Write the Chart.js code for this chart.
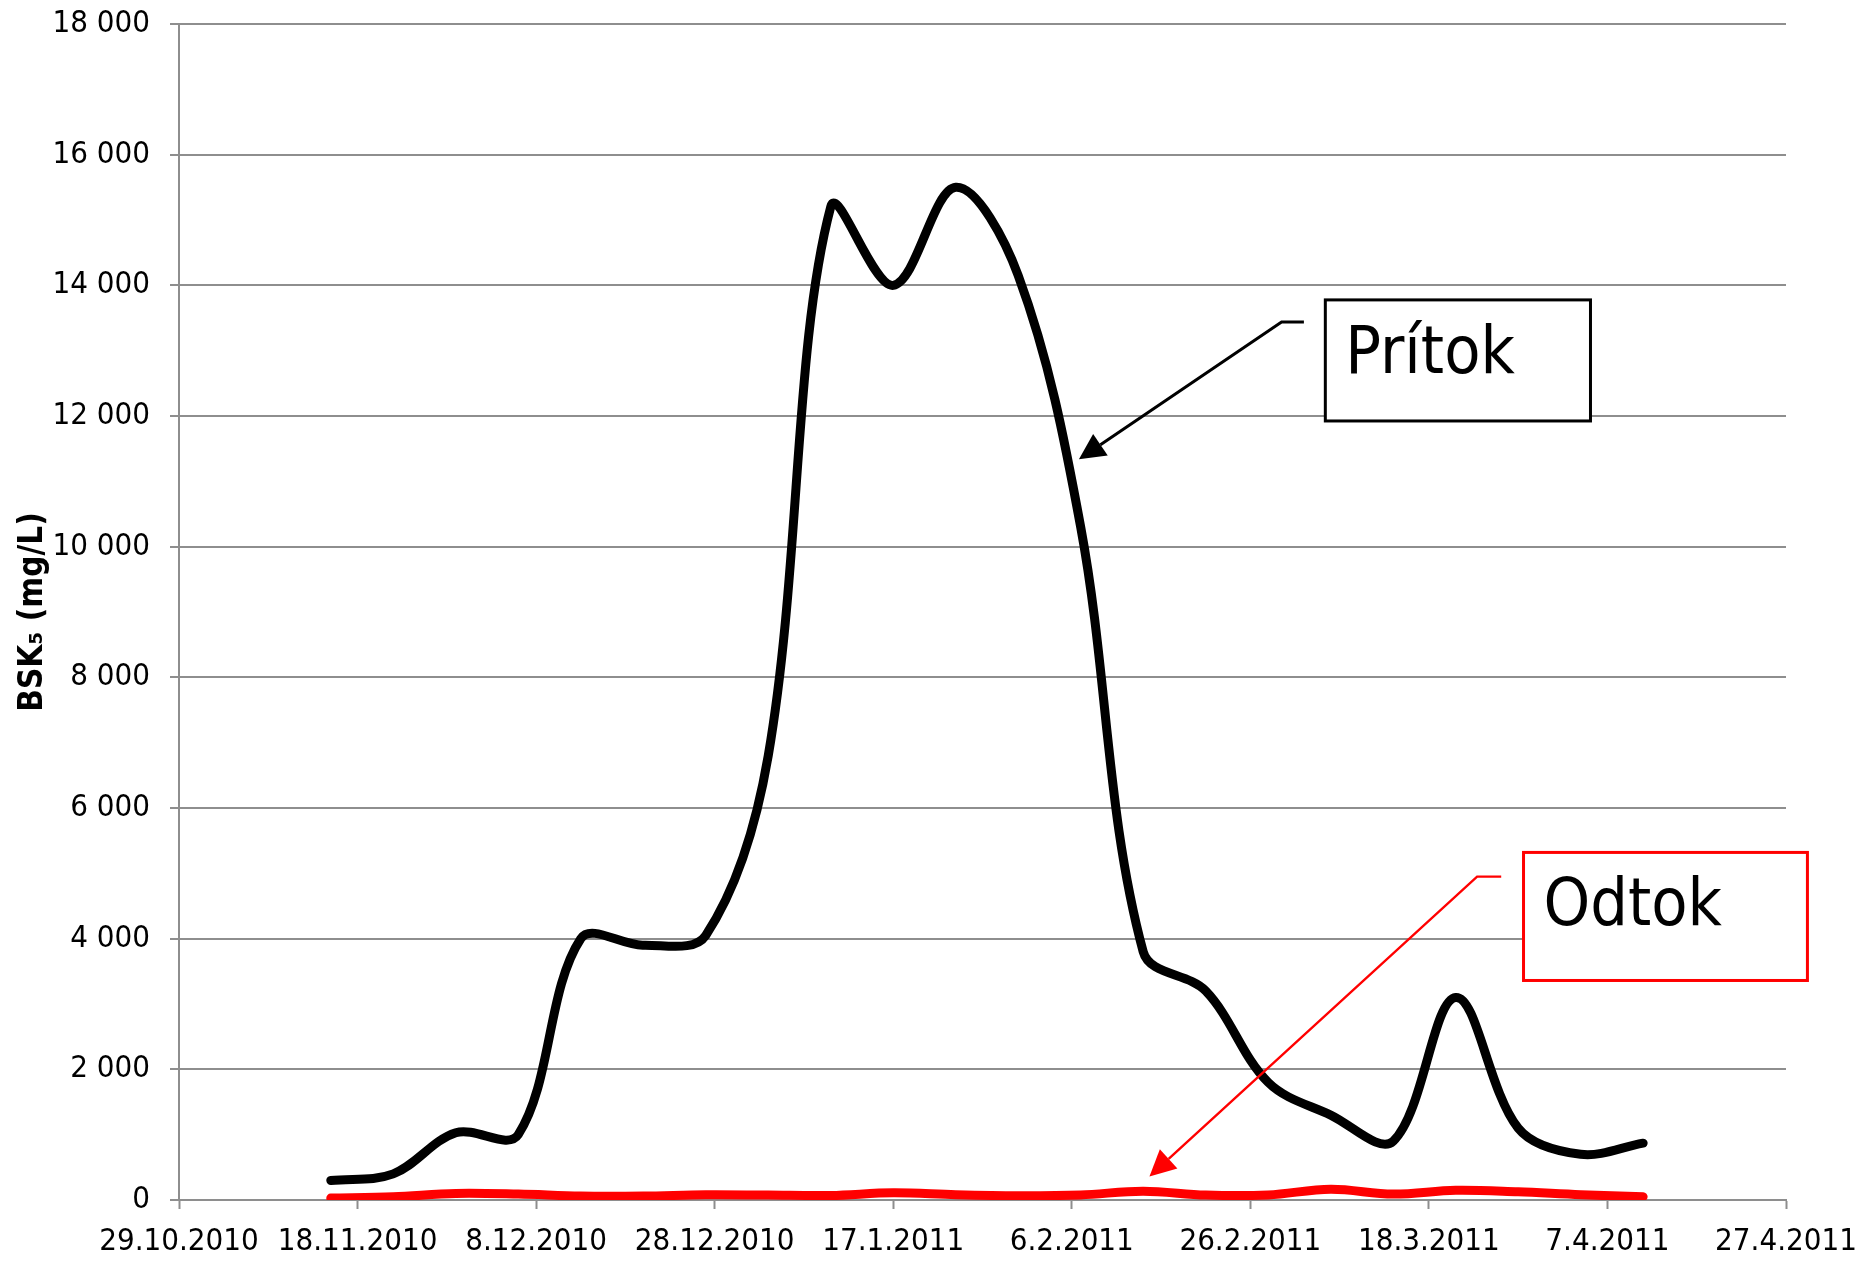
<!DOCTYPE html>
<html>
<head>
<meta charset="utf-8">
<script src="https://cdn.jsdelivr.net/npm/chart.js@4.4.1/dist/chart.umd.min.js"></script>
<style>
  html, body { margin: 0; padding: 0; background: #fff; }
  #wrap { width: 1871px; height: 1268px; }
</style>
</head>
<body>
<div id="wrap"><canvas id="bskChart" width="1871" height="1268"></canvas></div>
<script>
// weekly samples, BSK5 in mg/L
const sampleDates = ['15.11.2010','22.11.2010','29.11.2010','6.12.2010','13.12.2010','20.12.2010','27.12.2010',
  '3.1.2011','10.1.2011','17.1.2011','24.1.2011','31.1.2011','7.2.2011','14.2.2011','21.2.2011','28.2.2011',
  '7.3.2011','14.3.2011','21.3.2011','28.3.2011','4.4.2011','11.4.2011'];
const pritok = [300, 400, 1030, 1000, 4000, 3900, 4050, 6800, 15200, 14000, 15500, 14150, 10300, 3800, 3200, 1800,
  1300, 900, 3100, 1100, 700, 870];
const odtok = [30, 50, 100, 90, 60, 60, 80, 75, 70, 110, 80, 65, 77, 135, 75, 77, 165, 90, 150, 125, 80, 50];
const xTickLabels = ['29.10.2010','18.11.2010','8.12.2010','28.12.2010','17.1.2011','6.2.2011','26.2.2011',
  '18.3.2011','7.4.2011','27.4.2011'];

const FONT = '"DejaVu Sans Condensed", "DejaVu Sans", sans-serif';
const GRID = '#8e8e8e';

function parseDay(s) {
  const [d, m, y] = s.split('.').map(Number);
  return Date.UTC(y, m - 1, d) / 86400000;
}
const day0 = parseDay(xTickLabels[0]);
const xs = sampleDates.map(s => parseDay(s) - day0);

// callouts, anchored in data units (days, mg/L)
const callouts = [
  { text: 'Prítok', color: '#000000', lw: 3, box: [128.4, 13777, 158.1, 11924], leader: [126.0, 123.5, 13440], tip: [100.8, 11337] },
  { text: 'Odtok', color: '#ff0000', lw: 2.4, box: [150.6, 5320, 182.4, 3360], leader: [148.1, 145.4, 4950], tip: [108.7, 360] }
];

const calloutPlugin = {
  id: 'callouts',
  afterDraw(chart) {
    const { ctx, scales: { x, y } } = chart;
    ctx.save();
    callouts.forEach(c => {
      const bx0 = x.getPixelForValue(c.box[0]), by0 = y.getPixelForValue(c.box[1]);
      const bx1 = x.getPixelForValue(c.box[2]), by1 = y.getPixelForValue(c.box[3]);
      ctx.fillStyle = '#fff';
      ctx.fillRect(bx0, by0, bx1 - bx0, by1 - by0);
      ctx.strokeStyle = c.color;
      ctx.lineWidth = 3;
      ctx.strokeRect(bx0, by0, bx1 - bx0, by1 - by0);
      ctx.fillStyle = '#000';
      ctx.font = '66px ' + FONT;
      ctx.textBaseline = 'alphabetic';
      ctx.fillText(c.text, bx0 + 20, by0 + 73);

      // leader with arrow
      const lx0 = x.getPixelForValue(c.leader[0]), lx1 = x.getPixelForValue(c.leader[1]);
      const ly = y.getPixelForValue(c.leader[2]);
      const tx = x.getPixelForValue(c.tip[0]), ty = y.getPixelForValue(c.tip[1]);
      const ang = Math.atan2(ty - ly, tx - lx1);
      const len = 26, half = 13;
      const bxm = tx - Math.cos(ang) * len, bym = ty - Math.sin(ang) * len;
      ctx.strokeStyle = c.color;
      ctx.lineWidth = c.lw;
      ctx.beginPath();
      ctx.moveTo(lx0, ly);
      ctx.lineTo(lx1, ly);
      ctx.lineTo(bxm, bym);
      ctx.stroke();
      ctx.fillStyle = c.color;
      ctx.beginPath();
      ctx.moveTo(tx, ty);
      ctx.lineTo(bxm - Math.sin(ang) * half, bym + Math.cos(ang) * half);
      ctx.lineTo(bxm + Math.sin(ang) * half, bym - Math.cos(ang) * half);
      ctx.closePath();
      ctx.fill();
    });
    ctx.restore();
  }
};

Chart.defaults.font.family = FONT;
Chart.defaults.color = '#000';

new Chart(document.getElementById('bskChart'), {
  type: 'line',
  data: {
    datasets: [
      {
        label: 'Prítok',
        data: xs.map((d, i) => ({ x: d, y: pritok[i] })),
        borderColor: '#000000',
        borderWidth: 9,
        borderCapStyle: 'round',
        borderJoinStyle: 'round',
        pointRadius: 0,
        tension: 0.35,
        fill: false
      },
      {
        label: 'Odtok',
        data: xs.map((d, i) => ({ x: d, y: odtok[i] })),
        borderColor: '#ff0000',
        borderWidth: 9,
        borderCapStyle: 'round',
        borderJoinStyle: 'round',
        pointRadius: 0,
        tension: 0.35,
        fill: false
      }
    ]
  },
  options: {
    responsive: false,
    animation: false,
    layout: { padding: { top: 24, right: 85, left: 0, bottom: 0 } },
    plugins: { legend: { display: false }, tooltip: { enabled: false } },
    scales: {
      x: {
        type: 'linear',
        min: 0,
        max: 180,
        afterFit: s => { s.height = 68; s.paddingLeft = 0; s.paddingRight = 0; },
        ticks: {
          stepSize: 20,
          padding: 14,
          maxRotation: 0,
          font: { size: 31 },
          callback: v => xTickLabels[Math.round(v / 20)]
        },
        grid: { drawOnChartArea: false, drawTicks: true, tickLength: 9, tickColor: GRID, tickWidth: 2 },
        border: { display: true, color: GRID, width: 2 }
      },
      y: {
        min: 0,
        max: 18000,
        afterFit: s => { s.width = 179; s.paddingTop = 0; s.paddingBottom = 0; },
        ticks: {
          stepSize: 2000,
          padding: 20,
          font: { size: 31 },
          callback: v => String(v).replace(/\B(?=(\d{3})+(?!\d))/g, ' ')
        },
        grid: { color: GRID, lineWidth: 2, tickLength: 9, tickColor: GRID, tickWidth: 2 },
        border: { display: true, color: GRID, width: 2 },
        title: {
          display: true,
          text: 'BSK₅ (mg/L)',
          font: { size: 33, weight: 'bold' },
          padding: { top: 14, bottom: 0 }
        }
      }
    }
  },
  plugins: [calloutPlugin]
});
</script>
</body>
</html>
